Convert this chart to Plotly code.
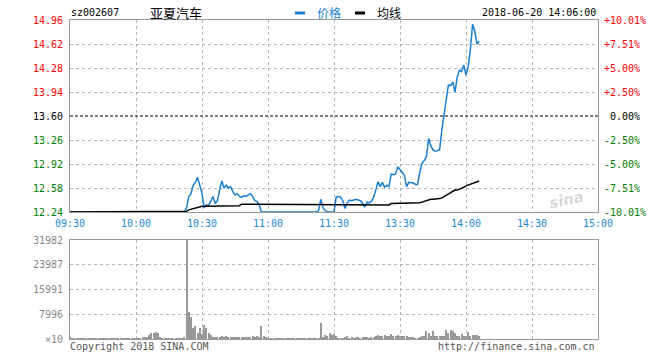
import plotly.graph_objects as go

# ---- data (per-minute, 0 = 09:30, 120 = 11:30/13:00, 240 = 15:00) ----
price = [
    12.24, 12.24, 12.24, 12.24, 12.24, 12.24, 12.24, 12.24, 12.24, 12.24,
    12.24, 12.24, 12.24, 12.24, 12.24, 12.24, 12.24, 12.24, 12.24, 12.24,
    12.24, 12.24, 12.24, 12.24, 12.24, 12.24, 12.24, 12.24, 12.24, 12.24,
    12.24, 12.24, 12.24, 12.24, 12.24, 12.24, 12.24, 12.24, 12.24, 12.24,
    12.24, 12.24, 12.24, 12.24, 12.24, 12.24, 12.24, 12.24, 12.24, 12.24,
    12.24, 12.24, 12.24, 12.30, 12.46, 12.50, 12.62, 12.66, 12.73, 12.62,
    12.50, 12.30, 12.34, 12.33, 12.40, 12.46, 12.36, 12.40, 12.55, 12.68,
    12.58, 12.62, 12.58, 12.60, 12.53, 12.48, 12.50, 12.46, 12.45, 12.47,
    12.46, 12.48, 12.50, 12.46, 12.40, 12.39, 12.34, 12.24, 12.24, 12.24,
    12.24, 12.24, 12.24, 12.24, 12.24, 12.24, 12.24, 12.24, 12.24, 12.24,
    12.24, 12.24, 12.24, 12.24, 12.24, 12.24, 12.24, 12.24, 12.24, 12.24,
    12.24, 12.24, 12.24, 12.26, 12.42, 12.30, 12.26, 12.24, 12.24, 12.24,
    12.24, 12.45, 12.46, 12.45, 12.40, 12.29, 12.37, 12.41, 12.40, 12.41,
    12.42, 12.41, 12.40, 12.36, 12.31, 12.38, 12.37, 12.39, 12.45, 12.55,
    12.67, 12.60, 12.66, 12.59, 12.62, 12.60, 12.78, 12.77, 12.78, 12.88,
    12.83, 12.80, 12.76, 12.60, 12.66, 12.66, 12.65, 12.63, 12.63, 12.81,
    12.93, 12.97, 13.02, 13.28, 13.18, 13.12, 13.10, 13.11, 13.12, 13.40,
    13.60, 13.84, 14.04, 14.03, 14.08, 13.94, 14.15, 14.25, 14.23, 14.32,
    14.18, 14.30, 14.55, 14.90, 14.80, 14.62, 14.66,
]
avg = [
    12.24, 12.24, 12.24, 12.24, 12.24, 12.24, 12.24, 12.24, 12.24, 12.24,
    12.24, 12.24, 12.24, 12.24, 12.24, 12.24, 12.24, 12.24, 12.24, 12.24,
    12.24, 12.24, 12.24, 12.24, 12.24, 12.24, 12.24, 12.24, 12.24, 12.24,
    12.24, 12.24, 12.24, 12.24, 12.24, 12.24, 12.24, 12.24, 12.24, 12.24,
    12.24, 12.24, 12.24, 12.24, 12.24, 12.24, 12.24, 12.24, 12.24, 12.24,
    12.24, 12.24, 12.24, 12.25, 12.27, 12.28, 12.29, 12.30, 12.31, 12.315,
    12.32, 12.32, 12.32, 12.32, 12.32, 12.32, 12.32, 12.32, 12.33, 12.33,
    12.33, 12.33, 12.33, 12.33, 12.33, 12.33, 12.33, 12.33, 12.35, 12.35,
    12.35, 12.35, 12.35, 12.35, 12.35, 12.35, 12.35, 12.34, 12.34, 12.34,
    12.34, 12.34, 12.34, 12.34, 12.34, 12.34, 12.34, 12.34, 12.34, 12.34,
    12.34, 12.34, 12.34, 12.34, 12.34, 12.34, 12.34, 12.34, 12.34, 12.34,
    12.34, 12.34, 12.34, 12.34, 12.34, 12.34, 12.34, 12.34, 12.34, 12.34,
    12.34, 12.34, 12.34, 12.34, 12.34, 12.34, 12.34, 12.34, 12.34, 12.34,
    12.34, 12.34, 12.34, 12.34, 12.34, 12.34, 12.34, 12.34, 12.34, 12.34,
    12.34, 12.34, 12.34, 12.34, 12.34, 12.34, 12.36, 12.36, 12.36, 12.36,
    12.36, 12.36, 12.36, 12.36, 12.36, 12.36, 12.36, 12.36, 12.37, 12.37,
    12.38, 12.39, 12.41, 12.41, 12.42, 12.42, 12.42, 12.43, 12.43, 12.44,
    12.46, 12.48, 12.50, 12.52, 12.54, 12.55, 12.55, 12.56, 12.58, 12.59,
    12.61, 12.62, 12.63, 12.65, 12.66, 12.67, 12.68,
]
volume = [
    760, 250, 220, 300, 250, 200, 280, 250, 230, 260,
    300, 250, 220, 260, 240, 300, 250, 220, 280, 250,
    230, 260, 300, 250, 220, 260, 240, 280, 250, 300,
    300, 320, 320, 430, 540, 760, 1300, 1840, 2050, 2160,
    1840, 540, 320, 250, 220, 250, 300, 250, 220, 250,
    300, 320, 430, 31982, 8860, 7240, 3670, 4320, 2050, 3670,
    1620, 4540, 3460, 1840, 1300, 760, 760, 540, 760, 970,
    760, 970, 760, 540, 760, 540, 760, 540, 760, 430,
    430, 540, 760, 970, 760, 970, 540, 4210, 970, 540,
    250, 220, 260, 240, 300, 250, 220, 280, 250, 230,
    260, 300, 250, 220, 260, 240, 280, 250, 300, 250,
    220, 260, 240, 320, 5290, 760, 1300, 970, 2050, 1300,
    1620, 860, 320, 320, 320, 650, 860, 320, 540, 320,
    540, 540, 320, 650, 540, 540, 320, 540, 650, 860,
    1400, 1080, 860, 1190, 860, 1080, 1730, 860, 860, 1400,
    1080, 860, 860, 860, 650, 650, 650, 320, 320, 540,
    1080, 1080, 2490, 1940, 1080, 2490, 1080, 860, 860, 1080,
    1080, 3020, 1940, 3020, 2700, 1940, 1080, 1080, 1620, 860,
    1080, 2270, 1080, 1300, 1400, 1400, 1080,
]
minutes = list(range(len(price)))

time_ticks = [0, 30, 60, 90, 120, 150, 180, 210, 240]
time_labels = ["09:30", "10:00", "10:30", "11:00", "11:30", "13:30", "14:00", "14:30", "15:00"]
price_ticks = [14.96, 14.62, 14.28, 13.94, 13.60, 13.26, 12.92, 12.58, 12.24]
pct_labels = ["+10.01%", "+7.51%", "+5.00%", "+2.50%", "\u00a00.00%", "-2.50%", "-5.00%", "-7.51%", "-10.01%"]
vol_ticks = [31982, 23987, 15991, 7996, 0]
vol_labels = ["31982", "23987", "15991", "7996", "\u00d710"]
prev_close = 13.60

# ---- geometry ----
W, H = 660, 360
L, R, T, B = 70, 62, 20, 21
PW, PH = W - L - R, H - T - B


def px(xp):
    return (xp - L) / PW


def py(yp):
    return (H - B - yp) / PH


MONO = "DejaVu Sans Mono"
CJK = "Noto Sans CJK SC"
BLUE = "#1a7fd0"

fig = go.Figure()
fig.add_trace(go.Scatter(x=minutes, y=price, mode="lines", xaxis="x", yaxis="y",
                         line=dict(color=BLUE, width=1.5), hoverinfo="skip"))
fig.add_trace(go.Scatter(x=minutes, y=avg, mode="lines", xaxis="x", yaxis="y",
                         line=dict(color="black", width=1.5), hoverinfo="skip"))
fig.add_trace(go.Bar(x=minutes, y=volume, xaxis="x2", yaxis="y2", width=0.45,
                     marker=dict(color="#999999", line=dict(width=0)), hoverinfo="skip"))

grid = dict(showgrid=True, gridcolor="#b4b4b4", griddash="dot", gridwidth=1,
            showline=True, linecolor="#999999", linewidth=1, mirror=True,
            zeroline=False, showticklabels=False, ticks="", fixedrange=True)

fig.update_layout(
    width=W, height=H, margin=dict(l=L, r=R, t=T, b=B),
    paper_bgcolor="white", plot_bgcolor="white", showlegend=False,
    xaxis=dict(domain=[0, 1], range=[0, 240], tickvals=time_ticks[1:-1], anchor="y", **grid),
    yaxis=dict(domain=[py(212), 1], range=[12.24, 14.96],
               tickvals=[v for v in price_ticks if v != prev_close][1:-1], anchor="x", **grid),
    xaxis2=dict(domain=[0, 1], range=[0, 240], tickvals=time_ticks[1:-1], anchor="y2", **grid),
    yaxis2=dict(domain=[0, py(240)], range=[0, vol_ticks[0]], tickvals=vol_ticks[1:-1], anchor="x2", **grid),
    bargap=0,
)

fig.add_shape(type="line", xref="x", yref="y", x0=0, x1=240, y0=prev_close, y1=prev_close,
              line=dict(color="black", width=1, dash="3px,2px"))

ann = []
for v, pl in zip(price_ticks, pct_labels):
    col = "#ff0000" if v > prev_close else ("#008000" if v < prev_close else "black")
    ann.append(dict(text=f"{v:.2f}", xref="paper", x=px(65), xanchor="right", yref="y", y=v,
                    yanchor="middle", showarrow=False, font=dict(family=MONO, size=10, color=col)))
    ann.append(dict(text=pl, xref="paper", x=px(602), xanchor="left", yref="y", y=v,
                    yanchor="middle", showarrow=False, font=dict(family=MONO, size=10, color=col)))
for v, vl in zip(vol_ticks, vol_labels):
    ann.append(dict(text=vl, xref="paper", x=px(65), xanchor="right", yref="y2", y=v,
                    yanchor="middle", showarrow=False, font=dict(family=MONO, size=10, color="#888888")))
for t, tl in zip(time_ticks, time_labels):
    ann.append(dict(text=tl, xref="x", x=t, xanchor="center", yref="paper", y=py(223),
                    yanchor="middle", showarrow=False, font=dict(family=MONO, size=10, color="#1a88d8")))

ann += [
    dict(text="sz002607", xref="paper", x=px(69), xanchor="left", yref="paper", y=py(12),
         yanchor="middle", showarrow=False, font=dict(family=MONO, size=10, color="black")),
    dict(text="亚夏汽车", xref="paper", x=px(176), xanchor="center", yref="paper", y=py(12),
         yanchor="middle", showarrow=False, font=dict(family=CJK, size=13, color="black")),
    dict(text="价格", xref="paper", x=px(315), xanchor="left", yref="paper", y=py(12),
         yanchor="middle", showarrow=False, font=dict(family=CJK, size=12, color=BLUE)),
    dict(text="均线", xref="paper", x=px(375), xanchor="left", yref="paper", y=py(12),
         yanchor="middle", showarrow=False, font=dict(family=CJK, size=12, color="black")),
    dict(text="2018-06-20 14:06:00", xref="paper", x=px(598), xanchor="right", yref="paper", y=py(12),
         yanchor="middle", showarrow=False, font=dict(family=MONO, size=10, color="black")),
    dict(text="Copyright 2018 SINA.COM", xref="paper", x=px(68), xanchor="left", yref="paper", y=py(347),
         yanchor="middle", showarrow=False, font=dict(family=MONO, size=10, color="#555555")),
    dict(text="http://finance.sina.com.cn", xref="paper", x=px(597), xanchor="right", yref="paper", y=py(347),
         yanchor="middle", showarrow=False, font=dict(family=MONO, size=10, color="#555555")),
    dict(text="<b><i>sina</i></b>", xref="paper", x=px(566), xanchor="center", yref="paper", y=py(200),
         yanchor="middle", showarrow=False, textangle=-12,
         font=dict(family="DejaVu Sans", size=15, color="#d9d9d9")),
]
fig.update_layout(annotations=ann)

for x0, x1, col in [(295, 305, BLUE), (355, 365, "black")]:
    fig.add_shape(type="line", xref="paper", yref="paper", x0=px(x0), x1=px(x1), y0=py(13), y1=py(13),
                  line=dict(color=col, width=3))

fig.write_html("out.html")
